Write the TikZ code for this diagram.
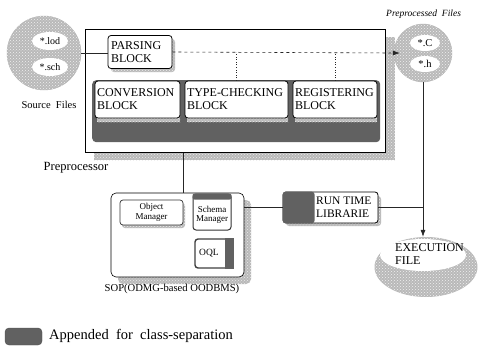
\documentclass[tikz,border=0pt]{standalone}
\usepackage{fontspec}
\setmainfont{Liberation Serif}
\usetikzlibrary{shapes.geometric,arrows.meta,patterns,calc}
\begin{document}
\begin{tikzpicture}[x=1pt,y=-1pt,
  tex/.style={fill=gray!55, postaction={pattern=crosshatch dots, pattern color=gray!12}},
  shadowfill/.style={fill=gray!55, postaction={pattern=crosshatch dots, pattern color=gray!15}},
  darkfill/.style={fill=black!62},
  blk/.style={draw=black, line width=0.8pt, fill=white, rounded corners=3pt, align=left,
    font=\fontsize{12}{13}\selectfont, inner sep=2pt},
  small/.style={draw=black!80, line width=0.7pt, fill=white, rounded corners=3pt, align=center,
    font=\fontsize{9}{9.5}\selectfont, inner sep=1pt},
  conn/.style={draw=black!85, line width=0.6pt},
  whiteell/.style={ellipse, fill=white, inner sep=0pt},
]
\useasboundingbox (0,0) rectangle (479,348);

% ---------- Source files ----------
\node[circle, tex, draw=gray!60, minimum size=74pt, inner sep=0pt] (src) at (44,53) {};
\node[whiteell, minimum width=36pt, minimum height=18pt, font=\fontsize{10}{10}\selectfont] (lod) at (50,41) {*.lod};
\node[whiteell, minimum width=36pt, minimum height=18pt, font=\fontsize{10}{10}\selectfont] (sch) at (50,67) {*.sch};
\node[font=\fontsize{10.5}{11}\selectfont, inner sep=0pt] (srcl) at (49,105) {Source\ \ Files};

% ---------- Preprocessor ----------
\path[shadowfill] (94,37) rectangle (395,160);
\node[draw=black, line width=0.6pt, fill=white, minimum width=300pt, minimum height=123pt,
  inner sep=0pt, anchor=north west] (pre) at (85,29) {};
\node[font=\fontsize{12.5}{13}\selectfont, inner sep=0pt] (prel) at (76,168) {Preprocessor};

\path[shadowfill, rounded corners=3pt] (111,39) rectangle (175,72);
\node[blk, minimum width=64pt, minimum height=33pt, text width=58pt] (parse) at (140,52) {PARSING\\BLOCK};

% dark band
\node[darkfill, rounded corners=4pt, minimum width=288pt, minimum height=62pt, inner sep=0pt,
  anchor=north west] (band) at (92,80) {};
\path[shadowfill] (97,115) rectangle (180,122);
\path[shadowfill] (187,115) rectangle (288,122);
\path[shadowfill] (295,115) rectangle (377,122);
\node[blk, minimum width=85pt, minimum height=37pt, text width=81pt] (cb) at (137.5,99.5) {CONVERSION\\BLOCK};
\node[blk, minimum width=103pt, minimum height=37pt, text width=99pt] (tc) at (236.5,99.5) {TYPE-CHECKING\\BLOCK};
\node[blk, minimum width=84pt, minimum height=37pt, text width=80pt] (rb) at (335,99.5) {REGISTERING\\BLOCK};

% ---------- Preprocessed files ----------
\node[circle, tex, draw=gray!60, minimum size=58pt, inner sep=0pt] (pc) at (423,53) {};
\node[whiteell, minimum width=30pt, minimum height=16pt, font=\fontsize{10.5}{10.5}\selectfont] (cf) at (425,43) {*.C};
\node[whiteell, minimum width=30pt, minimum height=16pt, font=\fontsize{10.5}{10.5}\selectfont] (hf) at (425,64) {*.h};
\node[anchor=west, font=\itshape\fontsize{9.5}{10}\selectfont, inner sep=0pt] (pcl) at (386,14) {Preprocessed\ \ Files};

% dashed connectors
\draw[conn, dashed, -{Latex[length=7pt,width=5pt]}, shorten >=-6pt] (parse.east) -- (pc.west);
\draw[conn, dotted, line width=0.8pt] (tc.north) -- (tc.north |- parse.east);
\draw[conn, dotted, line width=0.8pt] (rb.north) -- (rb.north |- parse.east);
\draw[conn] (src.east) -- (parse.west |- src.east);

% ---------- SOP ----------
\path[shadowfill, rounded corners=5pt] (118,200) rectangle (251,284);
\node[draw=black, line width=0.6pt, fill=white, rounded corners=5pt, minimum width=133pt,
  minimum height=84pt, inner sep=0pt] (sop) at (177.5,235) {};
\node[font=\fontsize{10.6}{11}\selectfont, inner sep=0pt] (sopl) at (172,289) {SOP(ODMG-based OODBMS)};

\path[shadowfill, rounded corners=3pt] (122,203) rectangle (185,228);
\node[small, minimum width=63pt, minimum height=25pt] (om) at (151.5,212.5) {Object\\Manager};
\node[small, minimum width=38pt, minimum height=36pt, line width=1pt] (sm) at (212,212) {};
\fill[darkfill, rounded corners=2pt] (sm.north west) rectangle ($(sm.north east)+(0,6)$);
\node[font=\fontsize{9}{9.5}\selectfont, align=center, inner sep=0pt] (smt) at (212,215) {Schema\\Manager};
\node[small, draw=black!75, line width=1.4pt, minimum width=38pt, minimum height=29pt] (oql) at (214,253.5) {};
\fill[darkfill] ($(oql.north east)+(-9,0)$) rectangle (oql.south east);
\node[font=\fontsize{9.5}{10}\selectfont, inner sep=1pt, fill=white] (oqlt) at (209,253.5) {OQL};

\draw[conn] (pre.south -| om.east) -- (sop.north -| om.east);

% ---------- Run time libraries ----------
\path[shadowfill, rounded corners=3pt] (286,196) rectangle (381,226);
\node[draw=black, line width=0.8pt, fill=white, rounded corners=3pt, minimum width=95pt,
  minimum height=31pt, inner sep=0pt] (rtl) at (330.5,207.5) {};
\fill[darkfill, rounded corners=3pt] (rtl.north west) rectangle ($(rtl.south west)+(32,0)$);
\node[anchor=west, align=left, font=\fontsize{11.5}{13}\selectfont, inner sep=0pt] (rtlt) at (316,207) {RUN TIME\\LIBRARIE};

% ---------- Execution file ----------
\node[ellipse, tex, minimum width=103pt, minimum height=60pt, inner sep=0pt] (ex) at (426,267) {};
\node[whiteell, minimum width=86pt, minimum height=32pt] (exw) at (423,255) {};
\node[align=left, font=\fontsize{12}{13}\selectfont, inner sep=0pt, anchor=west] (ext) at (395,254.5) {EXECUTION\\FILE};

% connectors
\draw[conn] (rtl.west -| sop.east) -- (rtl.west);
\draw[conn] (rtl.east) -- (rtl.east -| pc.south);
\draw[conn, -{Latex[length=7pt,width=5pt]}] (pc.south) -- (pc.south |- ex.north);

% ---------- Legend ----------
\node[darkfill, draw=black!70, rounded corners=4pt, minimum width=37pt, minimum height=17pt, inner sep=0pt] (leg) at (23.5,336.5) {};
\node[anchor=west, font=\fontsize{14.5}{15}\selectfont, inner sep=0pt] (legt) at (49,336) {Appended\ \ for\ \ class-separation};
\end{tikzpicture}
\end{document}
